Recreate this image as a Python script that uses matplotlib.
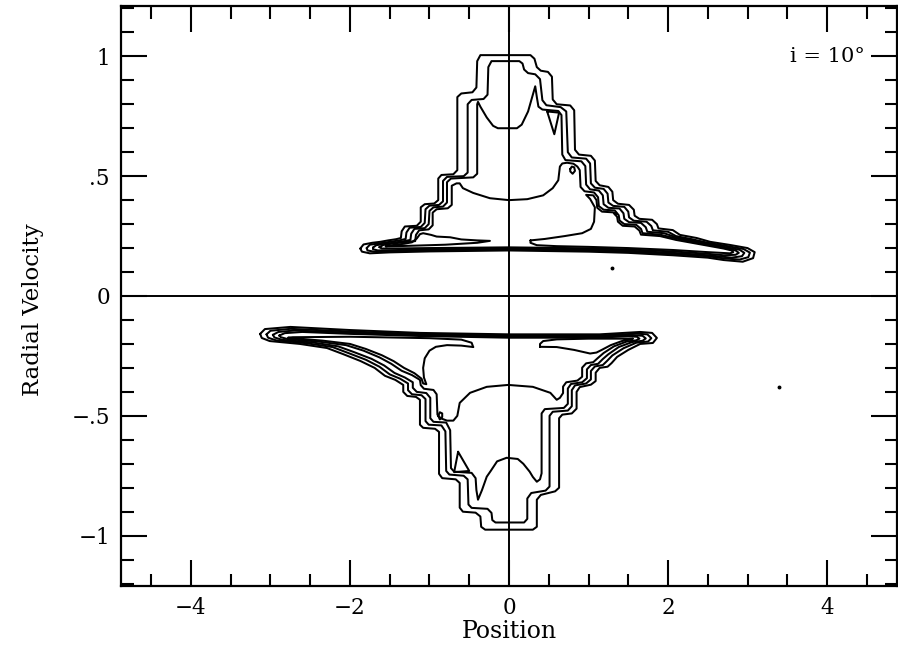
import matplotlib
matplotlib.use("Agg")
import matplotlib.pyplot as plt
from matplotlib.ticker import FixedLocator, MultipleLocator

# ---------------- data (position, radial velocity) ----------------
x_ticks = [-4, -2, 0, 2, 4]
x_tick_labels = ["\u22124", "\u22122", "0", "2", "4"]
y_ticks = [-1, -0.5, 0, 0.5, 1]
y_tick_labels = ["\u22121", "\u2212.5", "0", ".5", "1"]

# upper lobe (positive velocities) contour outlines
u1_x = [-1.87, -1.83, -1.72, -1.62, -1.52, -1.42, -1.36, -1.35, -1.31, -1.16, -1.11, -1.11, -1.06, -0.94,
        -0.89, -0.89, -0.85, -0.70, -0.65, -0.65, -0.60, -0.46, -0.41, -0.40, -0.36, 0.27, 0.32, 0.35,
        0.40, 0.49, 0.54, 0.55, 0.60, 0.77, 0.82, 0.83, 0.88, 1.03, 1.08, 1.09, 1.14, 1.25, 1.30, 1.31,
        1.37, 1.51, 1.57, 1.58, 1.64, 1.80, 1.86, 1.88, 2.06, 2.15, 2.36, 2.53, 2.78, 3.00, 3.09, 3.07,
        2.94, 2.70, 2.50, 2.06, 1.50, 1.00, 0.00, -1.00, -1.50, -1.75, -1.85, -1.87]
u1_v = [0.198, 0.215, 0.222, 0.226, 0.232, 0.237, 0.242, 0.27, 0.29, 0.293, 0.31, 0.37, 0.383, 0.386,
        0.40, 0.49, 0.505, 0.508, 0.525, 0.83, 0.845, 0.85, 0.87, 0.98, 1.005, 1.005, 0.99, 0.955,
        0.94, 0.935, 0.915, 0.82, 0.80, 0.795, 0.775, 0.61, 0.59, 0.585, 0.565, 0.48, 0.462, 0.455, 0.435,
        0.40, 0.385, 0.38, 0.36, 0.335, 0.322, 0.318, 0.30, 0.282, 0.275, 0.255, 0.242, 0.226, 0.213,
        0.20, 0.183, 0.158, 0.143, 0.15, 0.16, 0.17, 0.18, 0.185, 0.19, 0.186, 0.182, 0.178, 0.185, 0.198]

u2_x = [-1.79, -1.75, -1.62, -1.50, -1.38, -1.30, -1.29, -1.25, -1.11, -1.06, -1.05, -1.00, -0.88, -0.83,
        -0.83, -0.78, -0.57, -0.52, -0.52, -0.47, -0.32, -0.27, -0.26, -0.22, 0.13, 0.17, 0.19, 0.24,
        0.33, 0.39, 0.42, 0.47, 0.65, 0.72, 0.74, 0.79, 0.97, 1.02, 1.03, 1.08, 1.19, 1.24, 1.25, 1.31,
        1.45, 1.50, 1.51, 1.57, 1.73, 1.79, 1.81, 2.00, 2.10, 2.30, 2.50, 2.75, 2.95, 3.03, 3.01, 2.90,
        2.70, 2.50, 2.06, 1.50, 1.00, 0.00, -1.00, -1.50, -1.70, -1.78, -1.79]
u2_v = [0.200, 0.214, 0.220, 0.226, 0.232, 0.238, 0.265, 0.285, 0.288, 0.305, 0.362, 0.377, 0.380, 0.395,
        0.480, 0.497, 0.500, 0.515, 0.800, 0.818, 0.822, 0.840, 0.955, 0.980, 0.980, 0.970, 0.945, 0.930,
        0.925, 0.905, 0.817, 0.796, 0.788, 0.770, 0.600, 0.578, 0.573, 0.553, 0.470, 0.452, 0.447, 0.427,
        0.390, 0.376, 0.372, 0.352, 0.328, 0.314, 0.310, 0.292, 0.274, 0.268, 0.250, 0.237, 0.222, 0.208,
        0.196, 0.181, 0.162, 0.152, 0.157, 0.166, 0.175, 0.184, 0.189, 0.194, 0.190, 0.186, 0.185, 0.190, 0.200]

u3_x = [-1.71, -1.67, -1.55, -1.42, -1.30, -1.24, -1.23, -1.19, -1.06, -1.01, -1.00, -0.95, -0.83, -0.78,
        -0.78, -0.73, -0.45, -0.40, -0.40, -0.39, -0.36, -0.28, -0.20, -0.14, 0.10, 0.16, 0.24, 0.30,
        0.33, 0.35, 0.37, 0.42, 0.62, 0.66, 0.67, 0.71, 0.91, 0.96, 0.97, 1.02, 1.13, 1.18, 1.19, 1.25,
        1.39, 1.44, 1.45, 1.51, 1.66, 1.72, 1.74, 1.95, 2.10, 2.30, 2.50, 2.72, 2.90, 2.96, 2.93, 2.80,
        2.50, 2.06, 1.50, 1.00, 0.00, -1.00, -1.50, -1.65, -1.71, -1.71]
u3_v = [0.202, 0.212, 0.218, 0.224, 0.230, 0.234, 0.260, 0.280, 0.283, 0.300, 0.355, 0.370, 0.373, 0.390,
        0.475, 0.490, 0.495, 0.510, 0.800, 0.810, 0.790, 0.745, 0.710, 0.700, 0.700, 0.715, 0.770, 0.840,
        0.875, 0.830, 0.790, 0.778, 0.772, 0.755, 0.590, 0.567, 0.562, 0.542, 0.465, 0.445, 0.440, 0.420,
        0.383, 0.368, 0.365, 0.345, 0.322, 0.308, 0.305, 0.287, 0.268, 0.262, 0.245, 0.232, 0.218, 0.204,
        0.193, 0.180, 0.166, 0.160, 0.170, 0.180, 0.189, 0.194, 0.198, 0.195, 0.191, 0.190, 0.195, 0.202]

u4_x = [-1.63, -1.58, -1.48, -1.36, -1.18, -1.17, -1.13, -1.01, -0.96, -0.96, -0.91, -0.77, -0.72, -0.72,
        -0.66, -0.62, -0.58, -0.45, -0.24, 0.00, 0.23, 0.43, 0.55, 0.62, 0.64, 0.67, 0.73, 0.81, 0.86,
        0.89, 0.90, 0.95, 1.07, 1.12, 1.13, 1.19, 1.33, 1.38, 1.39, 1.45, 1.60, 1.66, 1.68, 1.90, 2.10,
        2.30, 2.50, 2.70, 2.85, 2.89, 2.85, 2.70, 2.50, 2.06, 1.50, 1.00, 0.00, -1.00, -1.50, -1.60, -1.63]
u4_v = [0.204, 0.213, 0.218, 0.223, 0.229, 0.255, 0.274, 0.278, 0.295, 0.348, 0.362, 0.366, 0.380, 0.460,
        0.470, 0.470, 0.450, 0.430, 0.408, 0.400, 0.404, 0.420, 0.450, 0.483, 0.540, 0.553, 0.556, 0.552,
        0.540, 0.525, 0.455, 0.437, 0.432, 0.412, 0.375, 0.360, 0.357, 0.337, 0.315, 0.300, 0.297, 0.280,
        0.262, 0.256, 0.240, 0.227, 0.214, 0.201, 0.190, 0.180, 0.172, 0.170, 0.176, 0.186, 0.194, 0.199,
        0.203, 0.200, 0.198, 0.198, 0.204]

u5_x = [-1.55, -1.45, -1.32, -1.22, -1.16, -1.12, -1.08, -0.98, -0.91, -0.74, -0.60, -0.40, -0.24,
        -0.40, -0.80, -1.20, -1.50, -1.55]
u5_v = [0.207, 0.213, 0.218, 0.224, 0.240, 0.258, 0.262, 0.255, 0.248, 0.245, 0.236, 0.232, 0.230,
        0.222, 0.214, 0.210, 0.207, 0.207]

u6_x = [0.27, 0.45, 0.70, 0.92, 1.03, 1.07, 1.08, 1.02, 0.97, 1.06, 1.10, 1.11, 1.17, 1.31, 1.36, 1.37,
        1.43, 1.58, 1.64, 1.66, 1.90, 2.10, 2.30, 2.50, 2.70, 2.80, 2.82, 2.78, 2.50, 2.06, 1.50, 1.00,
        0.60, 0.35, 0.27, 0.27]
u6_v = [0.232, 0.238, 0.250, 0.262, 0.280, 0.310, 0.370, 0.405, 0.422, 0.420, 0.400, 0.368, 0.352,
        0.349, 0.330, 0.310, 0.293, 0.290, 0.273, 0.256, 0.250, 0.234, 0.222, 0.210, 0.198, 0.190, 0.183,
        0.178, 0.183, 0.192, 0.200, 0.205, 0.208, 0.212, 0.222, 0.232]

u_tri_x = [0.48, 0.63, 0.57, 0.48]
u_tri_v = [0.770, 0.765, 0.675, 0.770]
u_loop_x = [0.77, 0.79, 0.82, 0.83, 0.80, 0.77, 0.77]
u_loop_v = [0.530, 0.540, 0.537, 0.522, 0.510, 0.520, 0.530]

# lower lobe (negative velocities) contour outlines
d1_x = [-3.13, -3.07, -2.75, -2.00, -1.12, 0.00, 1.14, 1.65, 1.80, 1.86, 1.81, 1.65, 1.50, 1.36, 1.29,
        1.24, 1.14, 1.09, 1.09, 1.03, 0.89, 0.85, 0.85, 0.79, 0.67, 0.63, 0.63, 0.58, 0.40, 0.35, 0.35,
        0.30, -0.30, -0.35, -0.36, -0.42, -0.58, -0.62, -0.62, -0.67, -0.84, -0.88, -0.88, -0.93, -1.08,
        -1.12, -1.12, -1.17, -1.28, -1.33, -1.33, -1.43, -1.56, -1.69, -1.87, -2.09, -2.29, -2.63, -3.01,
        -3.11, -3.13]
d1_v = [-0.158, -0.138, -0.129, -0.142, -0.154, -0.160, -0.160, -0.150, -0.154, -0.175, -0.196, -0.200,
        -0.225, -0.254, -0.280, -0.295, -0.300, -0.320, -0.355, -0.370, -0.380, -0.400, -0.470, -0.490,
        -0.495, -0.510, -0.800, -0.815, -0.830, -0.850, -0.963, -0.975, -0.975, -0.963, -0.920, -0.904,
        -0.900, -0.883, -0.780, -0.765, -0.760, -0.742, -0.567, -0.554, -0.550, -0.537, -0.433, -0.421,
        -0.417, -0.400, -0.371, -0.350, -0.333, -0.300, -0.271, -0.242, -0.217, -0.200, -0.188, -0.175,
        -0.158]

d2_x = [-3.05, -3.00, -2.75, -2.00, -1.12, 0.00, 1.14, 1.60, 1.74, 1.79, 1.75, 1.60, 1.44, 1.30, 1.23,
        1.18, 1.08, 1.03, 1.03, 0.97, 0.83, 0.79, 0.79, 0.74, 0.55, 0.51, 0.51, 0.46, 0.28, 0.23, 0.23,
        0.19, -0.17, -0.21, -0.22, -0.27, -0.47, -0.51, -0.52, -0.57, -0.75, -0.79, -0.80, -0.85, -1.01,
        -1.05, -1.05, -1.10, -1.22, -1.27, -1.27, -1.37, -1.50, -1.63, -1.80, -2.02, -2.22, -2.55, -2.93,
        -3.03, -3.05]
d2_v = [-0.160, -0.145, -0.137, -0.148, -0.159, -0.165, -0.165, -0.157, -0.160, -0.176, -0.190, -0.195,
        -0.218, -0.248, -0.272, -0.288, -0.294, -0.313, -0.348, -0.365, -0.373, -0.393, -0.460, -0.478,
        -0.483, -0.500, -0.795, -0.812, -0.822, -0.845, -0.930, -0.945, -0.945, -0.935, -0.905, -0.888,
        -0.884, -0.870, -0.765, -0.750, -0.745, -0.730, -0.565, -0.540, -0.537, -0.522, -0.430, -0.414,
        -0.410, -0.393, -0.365, -0.345, -0.327, -0.295, -0.266, -0.238, -0.213, -0.197, -0.185, -0.174,
        -0.160]

d3_x = [-2.97, -2.90, -2.70, -2.00, -1.12, 0.00, 1.14, 1.55, 1.68, 1.72, 1.68, 1.55, 1.38, 1.25, 1.18,
        1.12, 1.03, 0.98, 0.98, 0.92, 0.78, 0.74, 0.74, 0.69, 0.45, 0.41, 0.41, 0.39, 0.35, 0.30, 0.26,
        0.18, 0.11, -0.03, -0.15, -0.23, -0.28, -0.34, -0.39, -0.41, -0.42, -0.47, -0.69, -0.73, -0.74,
        -0.79, -0.95, -0.99, -0.99, -1.04, -1.16, -1.21, -1.21, -1.31, -1.44, -1.57, -1.73, -1.95, -2.15,
        -2.47, -2.85, -2.95, -2.97]
d3_v = [-0.162, -0.150, -0.144, -0.153, -0.163, -0.170, -0.170, -0.163, -0.166, -0.177, -0.187, -0.192,
        -0.213, -0.243, -0.263, -0.283, -0.288, -0.306, -0.343, -0.360, -0.367, -0.386, -0.450, -0.467,
        -0.472, -0.490, -0.740, -0.765, -0.775, -0.755, -0.733, -0.700, -0.680, -0.675, -0.690, -0.730,
        -0.754, -0.810, -0.850, -0.810, -0.760, -0.738, -0.733, -0.718, -0.560, -0.528, -0.525, -0.510,
        -0.425, -0.405, -0.400, -0.383, -0.360, -0.340, -0.321, -0.290, -0.262, -0.234, -0.210, -0.194,
        -0.183, -0.173, -0.162]

d4_x = [-2.89, -2.82, -2.60, -2.00, -1.12, 0.00, 1.10, 1.50, 1.61, 1.64, 1.60, 1.48, 1.32, 1.19, 1.12,
        1.06, 0.97, 0.92, 0.92, 0.86, 0.72, 0.68, 0.68, 0.64, 0.60, 0.52, 0.30, -0.01, -0.28, -0.49,
        -0.62, -0.65, -0.70, -0.78, -0.86, -0.90, -0.91, -0.95, -1.07, -1.11, -1.12, -1.22, -1.35, -1.48,
        -1.63, -1.83, -2.05, -2.40, -2.78, -2.87, -2.89]
d4_v = [-0.165, -0.155, -0.150, -0.158, -0.167, -0.174, -0.174, -0.168, -0.170, -0.178, -0.185, -0.190,
        -0.210, -0.238, -0.258, -0.276, -0.281, -0.299, -0.337, -0.353, -0.360, -0.378, -0.405, -0.425,
        -0.433, -0.404, -0.379, -0.371, -0.379, -0.404, -0.446, -0.500, -0.520, -0.520, -0.510, -0.495,
        -0.410, -0.392, -0.387, -0.372, -0.350, -0.330, -0.312, -0.283, -0.256, -0.228, -0.205, -0.190,
        -0.180, -0.172, -0.165]

d5_x = [-0.45, -0.60, -0.78, -0.92, -1.00, -1.06, -1.08, -1.07, -1.04, -1.08, -1.10, -1.19, -1.32,
        -1.45, -1.60, -1.80, -2.00, -2.35, -2.70, -2.78, -2.72, -2.00, -1.00, -0.60, -0.47, -0.45]
d5_v = [-0.213, -0.207, -0.205, -0.212, -0.228, -0.260, -0.300, -0.340, -0.368, -0.365, -0.345, -0.322,
        -0.300, -0.272, -0.247, -0.221, -0.200, -0.186, -0.177, -0.174, -0.172, -0.170, -0.176, -0.182,
        -0.195, -0.213]

d6_x = [0.39, 0.60, 0.82, 1.02, 1.10, 1.16, 1.28, 1.42, 1.52, 1.56, 1.45, 1.00, 0.60, 0.43, 0.39, 0.39]
d6_v = [-0.212, -0.213, -0.225, -0.240, -0.236, -0.226, -0.205, -0.188, -0.182, -0.178, -0.178, -0.178,
        -0.181, -0.188, -0.200, -0.212]

d_tri_x = [-0.64, -0.69, -0.50, -0.64]
d_tri_v = [-0.650, -0.735, -0.730, -0.650]
d_loop_x = [-0.89, -0.87, -0.84, -0.84, -0.87, -0.89]
d_loop_v = [-0.500, -0.485, -0.490, -0.505, -0.515, -0.500]

dots_x = [1.29, 1.33, 3.40]
dots_v = [0.115, 0.345, -0.380]

outlines = [
    (u1_x, u1_v), (u2_x, u2_v), (u3_x, u3_v), (u4_x, u4_v), (u5_x, u5_v), (u6_x, u6_v),
    (u_tri_x, u_tri_v), (u_loop_x, u_loop_v),
    (d1_x, d1_v), (d2_x, d2_v), (d3_x, d3_v), (d4_x, d4_v), (d5_x, d5_v), (d6_x, d6_v),
    (d_tri_x, d_tri_v), (d_loop_x, d_loop_v),
]

# ---------------- figure ----------------
plt.rcParams["font.family"] = ["DejaVu Serif"]

fig = plt.figure(figsize=(8.98, 6.49), dpi=100)
ax = fig.add_axes([121 / 898, 1 - 586 / 649, 776 / 898, 580 / 649])

for xs, vs in outlines:
    ax.plot(xs, vs, color="black", lw=1.45, solid_joinstyle="round", solid_capstyle="round")

ax.plot(dots_x, dots_v, linestyle="none", marker="o", ms=1.8, color="black")

ax.axhline(0, color="black", lw=1.4)
ax.axvline(0, color="black", lw=1.4)

ax.set_xlim(-4.88, 4.88)
ax.set_ylim(-1.21, 1.21)
ax.xaxis.set_major_locator(FixedLocator(x_ticks))
ax.set_xticklabels(x_tick_labels)
ax.yaxis.set_major_locator(FixedLocator(y_ticks))
ax.set_yticklabels(y_tick_labels)
ax.xaxis.set_minor_locator(MultipleLocator(0.5))
ax.yaxis.set_minor_locator(MultipleLocator(0.1))
ax.tick_params(which="both", direction="in", top=True, right=True, width=1.5, colors="black")
ax.tick_params(which="major", length=19, pad=8, labelsize=15.5)
ax.tick_params(which="minor", length=9)
for s in ax.spines.values():
    s.set_linewidth(1.6)

ax.set_xlabel("Position", fontsize=17)
ax.set_ylabel("Radial Velocity", fontsize=16.5)
ax.xaxis.set_label_coords(0.5, -0.079)
ax.xaxis.label.set_va("center")
ax.yaxis.set_label_coords(-0.113, 0.476)
ax.yaxis.label.set_va("center")

ax.text(4.48, 1.0, "i = 10\u00b0", ha="right", va="center", fontsize=15)

fig.savefig("out.png", dpi=100)
